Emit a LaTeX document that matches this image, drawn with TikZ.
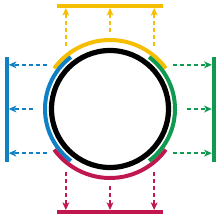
\documentclass[tikz,border=0pt]{standalone}
\usepackage{tikz}
\usetikzlibrary{arrows.meta, calc}

\definecolor{ygold}{HTML}{F5BE00}
\definecolor{lblue}{HTML}{1080C4}
\definecolor{rgreen}{HTML}{0F9A50}
\definecolor{bcrim}{HTML}{C0174F}

\begin{document}
\begin{tikzpicture}[
        x=0.25mm, y=0.25mm,
        % Define styles
        ring/.style={draw, circle, line width=1.3mm, inner sep=0pt, minimum size=29.25mm},
        band/.style={line width=1mm, #1},
        bar/.style={fill=#1, inner sep=0pt, outer sep=0pt},
        flow/.style={-{Stealth[length=1.9mm, width=1.7mm, inset=0.5mm]}, dash pattern=on 1mm off 0.75mm, line width=0.36mm, #1}
    ]
    \useasboundingbox (0,0) rectangle (220,220);

    % 1. Central circle
    \node[ring] (disk) at (110,111) {};

    % 2. Coloured arcs round the circle
    \draw[band=ygold] ([shift={(36:69)}]disk.center) arc[start angle=36, end angle=144, radius=69];
    \draw[band=lblue] ([shift={(127:65)}]disk.center) arc[start angle=127, end angle=233, radius=65];
    \draw[band=bcrim] ([shift={(216:69)}]disk.center) arc[start angle=216, end angle=324, radius=69];
    \draw[band=rgreen] ([shift={(-53:65)}]disk.center) arc[start angle=-53, end angle=53, radius=65];

    % 3. Bars on the four sides
    \node[bar=ygold, minimum width=26.5mm, minimum height=1mm] (ybar) at (110,214) {};
    \node[bar=bcrim, minimum width=26.5mm, minimum height=1mm] (rbar) at (110,8) {};
    \node[bar=lblue, minimum width=1mm, minimum height=26.25mm] (bbar) at (6.7,110.5) {};
    \node[bar=rgreen, minimum width=1mm, minimum height=26.25mm] (gbar) at (213.8,110.5) {};

    % Start points of the dashed arrows
    \coordinate (y1) at ([shift={(125:77)}]disk.center);
    \coordinate (y2) at ([shift={(90:77)}]disk.center);
    \coordinate (y3) at ([shift={(55:77)}]disk.center);
    \coordinate (b1) at ([shift={(145:77)}]disk.center);
    \coordinate (b2) at ([shift={(180:77)}]disk.center);
    \coordinate (b3) at ([shift={(215:77)}]disk.center);
    \coordinate (r1) at ([shift={(235:77)}]disk.center);
    \coordinate (r2) at ([shift={(270:77)}]disk.center);
    \coordinate (r3) at ([shift={(305:77)}]disk.center);
    \coordinate (g1) at ([shift={(35:77)}]disk.center);
    \coordinate (g2) at ([shift={(0:77)}]disk.center);
    \coordinate (g3) at ([shift={(-35:77)}]disk.center);

    % 4. Dashed arrows out to the bars
    \draw[flow=ygold] (y1) -- (y1 |- ybar.south);
    \draw[flow=ygold] (y2) -- (y2 |- ybar.south);
    \draw[flow=ygold] (y3) -- (y3 |- ybar.south);

    \draw[flow=lblue] (b1) -- (b1 -| bbar.east);
    \draw[flow=lblue] (b2) -- (b2 -| bbar.east);
    \draw[flow=lblue] (b3) -- (b3 -| bbar.east);

    \draw[flow=bcrim] (r1) -- (r1 |- rbar.north);
    \draw[flow=bcrim] (r2) -- (r2 |- rbar.north);
    \draw[flow=bcrim] (r3) -- (r3 |- rbar.north);

    \draw[flow=rgreen] (g1) -- (g1 -| gbar.west);
    \draw[flow=rgreen] (g2) -- (g2 -| gbar.west);
    \draw[flow=rgreen] (g3) -- (g3 -| gbar.west);

\end{tikzpicture}
\end{document}
